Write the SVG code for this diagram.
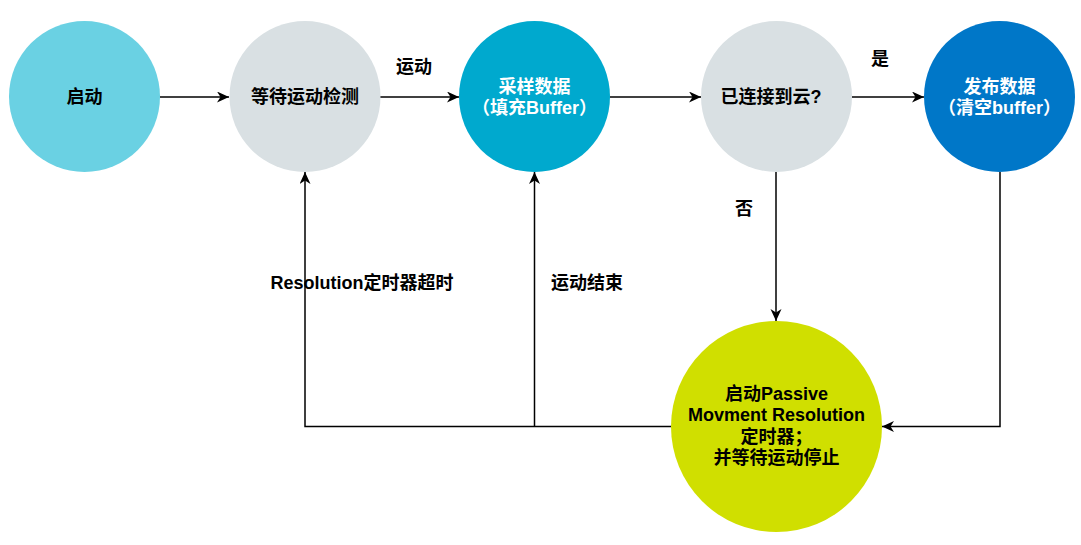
<svg xmlns="http://www.w3.org/2000/svg" width="1081" height="545" viewBox="0 0 1081 545">
<style>
text{font-family:"Liberation Sans","Noto Sans CJK SC",sans-serif;font-size:18px;font-weight:bold;text-anchor:middle;dominant-baseline:central;fill:#000}
.w{fill:#fff}
.c{fill:none;stroke:#000;stroke-width:1.5}
</style>
<defs>
<marker id="a" markerUnits="userSpaceOnUse" markerWidth="13" markerHeight="12" refX="12" refY="5.5" orient="auto" viewBox="0 0 13 12">
<path d="M0,0 L12,5.5 L0,11 L3.5,5.5 Z" fill="#000"/>
</marker>
</defs>
<rect width="1081" height="545" fill="#fff"/>
<g id="connectors">
<path class="c" d="M160,97 L229,97" marker-end="url(#a)"/>
<path class="c" d="M380,97 L459,97" marker-end="url(#a)"/>
<path class="c" d="M610,97 L701,97" marker-end="url(#a)"/>
<path class="c" d="M852,97 L924,97" marker-end="url(#a)"/>
<path class="c" d="M776,172 L776,321" marker-end="url(#a)"/>
<path class="c" d="M1000,172 L1000,426.5 L882,426.5" marker-end="url(#a)"/>
<path class="c" d="M671,426.5 L305,426.5 L305,172" marker-end="url(#a)"/>
<path class="c" d="M534.5,426.5 L534.5,172" marker-end="url(#a)"/>
<text x="414" y="67">运动</text>
<text x="880" y="59">是</text>
<text x="744" y="209">否</text>
<text x="362" y="283">Resolution定时器超时</text>
<text x="587" y="283">运动结束</text>
</g>
<g id="start">
<circle cx="84.5" cy="96.5" r="75.5" fill="#6ad1e3"/>
<text x="84.5" y="97">启动</text>
</g>
<g id="wait">
<circle cx="305" cy="96.5" r="75.5" fill="#d9e0e3"/>
<text x="305" y="97">等待运动检测</text>
</g>
<g id="sample">
<circle cx="534.5" cy="96.5" r="75.5" fill="#00a9ce"/>
<text class="w" x="534.5" y="87">采样数据</text>
<text class="w" x="534.5" y="108">（填充Buffer）</text>
</g>
<g id="connected">
<circle cx="776.5" cy="96.5" r="75.5" fill="#d9e0e3"/>
<text x="771" y="97">已连接到云?</text>
</g>
<g id="publish">
<circle cx="999.5" cy="96.5" r="75.5" fill="#0077c8"/>
<text class="w" x="999.5" y="87">发布数据</text>
<text class="w" x="999.5" y="108">（清空buffer）</text>
</g>
<g id="timer">
<circle cx="776.5" cy="426.5" r="105.5" fill="#d0df00"/>
<text x="776.5" y="394">启动Passive</text>
<text x="776.5" y="415">Movment Resolution</text>
<text x="776.5" y="437">定时器；</text>
<text x="776.5" y="458">并等待运动停止</text>
</g>
</svg>
